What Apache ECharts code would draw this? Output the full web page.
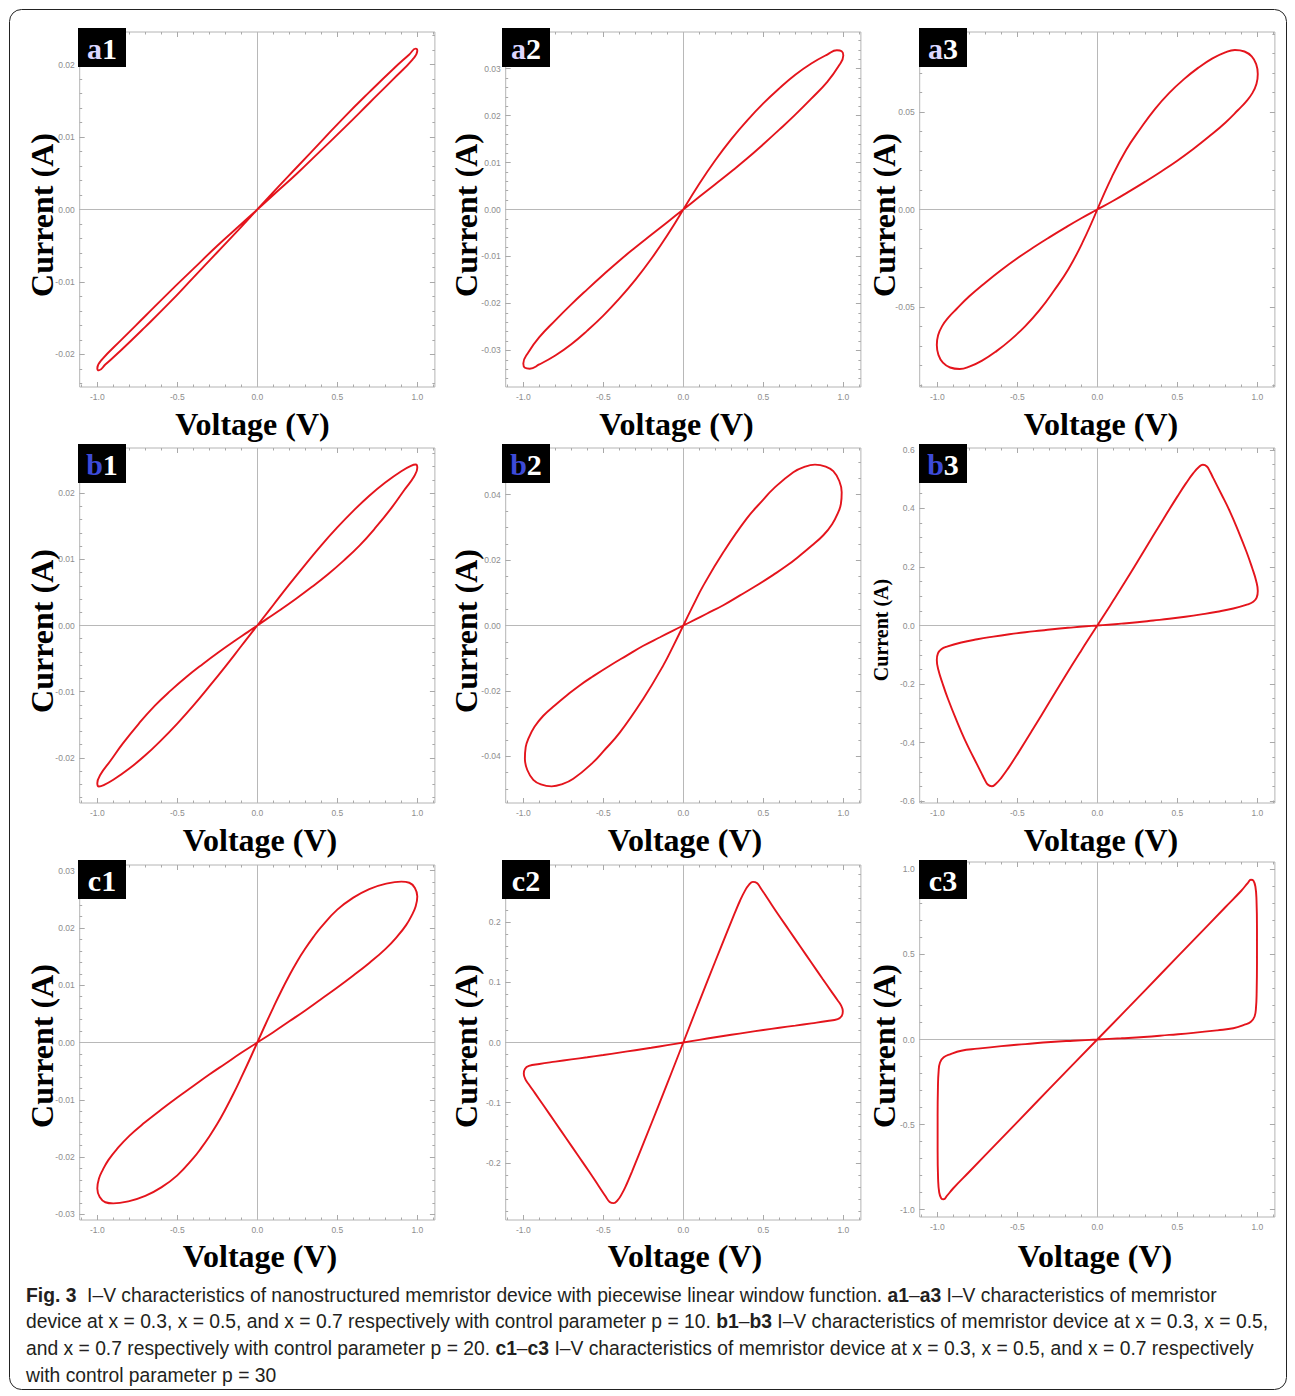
<!DOCTYPE html>
<html><head><meta charset="utf-8">
<script src="https://cdn.jsdelivr.net/npm/echarts@6.0.0/dist/echarts.min.js"></script>
<style>html,body{margin:0;padding:0;background:#fff}#c{width:1295px;height:1396px}</style>
</head><body><div id="c"></div>
<script>
// ---- data: loops as [voltage (V), current (A)] ----
const a1 = [[0,0],[0.1,0.0024],[0.25,0.0059],[0.4,0.0094],[0.55,0.0129],[0.7,0.0162],[0.85,0.0194],[0.95,0.0214],[0.99,0.0222],[1.0,0.0219],
[0.97,0.0207],[0.85,0.0180],[0.7,0.0147],[0.55,0.0114],[0.4,0.0082],[0.25,0.0050],[0.1,0.0020],[0,0],
[-0.1,-0.0020],[-0.25,-0.0050],[-0.4,-0.0082],[-0.55,-0.0114],[-0.7,-0.0147],[-0.85,-0.0180],[-0.97,-0.0207],[-1.0,-0.0219],
[-0.99,-0.0222],[-0.95,-0.0214],[-0.85,-0.0194],[-0.7,-0.0162],[-0.55,-0.0129],[-0.4,-0.0094],[-0.25,-0.0059],[-0.1,-0.0024],[0,0]];

const a2 = [[0,0],[0.1,0.0055],[0.2,0.0105],[0.3,0.0150],[0.4,0.0190],[0.5,0.0226],[0.6,0.0258],[0.7,0.0287],[0.8,0.0311],[0.9,0.0330],[0.96,0.0339],[0.99,0.0337],[1.0,0.0328],
[0.97,0.0305],[0.9,0.0272],[0.8,0.0236],[0.7,0.0202],[0.6,0.0170],[0.5,0.0139],[0.4,0.0109],[0.3,0.0081],[0.2,0.0054],[0.1,0.0027],[0,0],
[-0.1,-0.0027],[-0.2,-0.0054],[-0.3,-0.0081],[-0.4,-0.0109],[-0.5,-0.0139],[-0.6,-0.0170],[-0.7,-0.0202],[-0.8,-0.0236],[-0.9,-0.0272],[-0.97,-0.0305],
[-1.0,-0.0328],[-0.99,-0.0337],[-0.96,-0.0339],[-0.9,-0.0330],[-0.8,-0.0311],[-0.7,-0.0287],[-0.6,-0.0258],[-0.5,-0.0226],[-0.4,-0.0190],[-0.3,-0.0150],[-0.2,-0.0105],[-0.1,-0.0055],[0,0]];

const a3 = [[0,0],[0.09,0.0165],[0.18,0.0305],[0.27,0.0415],[0.36,0.0515],[0.45,0.0598],[0.54,0.0667],[0.63,0.0726],[0.72,0.0775],[0.80,0.0806],[0.86,0.0818],[0.92,0.0810],[0.965,0.0785],[0.993,0.0745],[1.003,0.0695],[0.995,0.0645],[0.97,0.0598],[0.93,0.0553],[0.88,0.0510],
[0.8,0.0445],[0.7,0.0375],[0.6,0.031],[0.5,0.025],[0.4,0.0195],[0.3,0.0143],[0.2,0.0093],[0.1,0.0045],[0,0],
[-0.1,-0.0045],[-0.2,-0.0093],[-0.3,-0.0143],[-0.4,-0.0195],[-0.5,-0.025],[-0.6,-0.031],[-0.7,-0.0375],[-0.8,-0.0445],
[-0.88,-0.0510],[-0.93,-0.0553],[-0.97,-0.0598],[-0.995,-0.0645],[-1.003,-0.0695],[-0.993,-0.0745],[-0.965,-0.0785],[-0.92,-0.0810],[-0.86,-0.0818],[-0.80,-0.0806],[-0.72,-0.0775],[-0.63,-0.0726],[-0.54,-0.0667],[-0.45,-0.0598],[-0.36,-0.0515],[-0.27,-0.0415],[-0.18,-0.0305],[-0.09,-0.0165],[0,0]];

const b1 = [[0,0],[0.1,0.0031],[0.2,0.0062],[0.3,0.0092],[0.4,0.0121],[0.5,0.0148],[0.6,0.0173],[0.7,0.0196],[0.8,0.0216],[0.9,0.0233],[0.96,0.0241],[0.99,0.0243],[1.0,0.0238],
[0.98,0.0225],[0.92,0.0205],[0.84,0.0178],[0.74,0.0148],[0.64,0.0121],[0.54,0.0098],[0.44,0.0077],[0.34,0.0058],[0.24,0.0040],[0.14,0.0023],[0.06,0.0010],[0,0],
[-0.06,-0.0010],[-0.14,-0.0023],[-0.24,-0.0040],[-0.34,-0.0058],[-0.44,-0.0077],[-0.54,-0.0098],[-0.64,-0.0121],[-0.74,-0.0148],[-0.84,-0.0178],[-0.92,-0.0205],[-0.98,-0.0225],
[-1.0,-0.0238],[-0.99,-0.0243],[-0.96,-0.0241],[-0.9,-0.0233],[-0.8,-0.0216],[-0.7,-0.0196],[-0.6,-0.0173],[-0.5,-0.0148],[-0.4,-0.0121],[-0.3,-0.0092],[-0.2,-0.0062],[-0.1,-0.0031],[0,0]];

const b2 = [[0,0],[0.06,0.006],[0.125,0.0122],[0.25,0.0224],[0.396,0.0327],[0.5,0.0385],[0.5625,0.0418],[0.6875,0.0469],[0.76,0.0486],[0.823,0.0492],[0.89,0.0486],[0.9375,0.0472],[0.975,0.0442],[0.99,0.0408],[0.985,0.0372],[0.969,0.0347],[0.93,0.0310],[0.875,0.0276],
[0.8,0.0243],[0.729,0.0214],[0.65,0.0184],[0.5625,0.0155],[0.45,0.0120],[0.354,0.0092],[0.25,0.0062],[0.146,0.0036],[0.07,0.0017],[0,0],
[-0.07,-0.0017],[-0.146,-0.0036],[-0.25,-0.0062],[-0.354,-0.0092],[-0.45,-0.0120],[-0.5625,-0.0155],[-0.65,-0.0184],[-0.729,-0.0214],[-0.8,-0.0243],
[-0.875,-0.0276],[-0.93,-0.0310],[-0.969,-0.0347],[-0.985,-0.0372],[-0.99,-0.0408],[-0.975,-0.0442],[-0.9375,-0.0472],[-0.89,-0.0486],[-0.823,-0.0492],[-0.76,-0.0486],[-0.6875,-0.0469],[-0.5625,-0.0418],[-0.5,-0.0385],[-0.396,-0.0327],[-0.25,-0.0224],[-0.125,-0.0122],[-0.06,-0.006],[0,0]];

const b3 = [[0,0],[0.1,0.085],[0.2,0.172],[0.3,0.262],[0.4,0.352],[0.5,0.44],[0.555,0.486],[0.6,0.52],[0.635,0.541],[0.66,0.549],[0.685,0.543],[0.705,0.525],[0.725,0.503],[0.775,0.449],[0.829,0.389],[0.88,0.324],[0.933,0.251],[0.967,0.198],[0.993,0.152],[1.003,0.118],[0.996,0.095],[0.975,0.081],[0.94,0.072],
[0.85,0.058],[0.75,0.047],[0.65,0.038],[0.55,0.030],[0.45,0.023],[0.35,0.017],[0.25,0.011],[0.15,0.0063],[0.07,0.0028],[0,0],
[-0.07,-0.0028],[-0.15,-0.0063],[-0.25,-0.011],[-0.35,-0.017],[-0.45,-0.023],[-0.55,-0.030],[-0.65,-0.038],[-0.75,-0.047],[-0.85,-0.058],
[-0.94,-0.072],[-0.975,-0.081],[-0.996,-0.095],[-1.003,-0.118],[-0.993,-0.152],[-0.967,-0.198],[-0.933,-0.251],[-0.88,-0.324],[-0.829,-0.389],[-0.775,-0.449],[-0.725,-0.503],[-0.705,-0.525],[-0.685,-0.543],[-0.66,-0.549],[-0.635,-0.541],[-0.6,-0.52],[-0.555,-0.486],[-0.5,-0.44],[-0.4,-0.352],[-0.3,-0.262],[-0.2,-0.172],[-0.1,-0.085],[0,0]];

const c1 = [[0,0],[0.05,0.0031],[0.1,0.0061],[0.15,0.0090],[0.2,0.0117],[0.25,0.0142],[0.3,0.0164],[0.35,0.0184],[0.4,0.0202],[0.5,0.0232],[0.6,0.0253],[0.7,0.0268],[0.8,0.0277],[0.9,0.0281],[0.95,0.0279],[0.985,0.0270],[1.0,0.0255],[0.99,0.0238],[0.965,0.0222],[0.93,0.0205],
[0.88,0.0187],[0.8,0.0163],[0.7,0.0139],[0.6,0.0117],[0.5,0.0096],[0.4,0.0076],[0.3,0.0056],[0.2,0.0037],[0.1,0.0018],[0,0],
[-0.1,-0.0018],[-0.2,-0.0037],[-0.3,-0.0056],[-0.4,-0.0076],[-0.5,-0.0096],[-0.6,-0.0117],[-0.7,-0.0139],[-0.8,-0.0163],[-0.88,-0.0187],
[-0.93,-0.0205],[-0.965,-0.0222],[-0.99,-0.0238],[-1.0,-0.0255],[-0.985,-0.0270],[-0.95,-0.0279],[-0.9,-0.0281],[-0.8,-0.0277],[-0.7,-0.0268],[-0.6,-0.0253],[-0.5,-0.0232],[-0.4,-0.0202],[-0.35,-0.0184],[-0.3,-0.0164],[-0.25,-0.0142],[-0.2,-0.0117],[-0.15,-0.0090],[-0.1,-0.0061],[-0.05,-0.0031],[0,0]];

const c2 = [[0,0],[0.1,0.068],[0.2,0.135],[0.28,0.188],[0.32,0.214],[0.355,0.236],[0.385,0.252],[0.41,0.262],[0.435,0.267],[0.46,0.265],[0.485,0.256],[0.53,0.238],[0.59,0.214],[0.66,0.187],[0.73,0.160],[0.80,0.133],[0.87,0.106],[0.925,0.085],[0.962,0.071],[0.985,0.062],[0.997,0.052],[0.99,0.044],[0.965,0.039],
[0.9,0.0357],[0.8,0.0318],[0.7,0.0281],[0.6,0.0245],[0.5,0.0208],[0.4,0.0168],[0.3,0.0128],[0.2,0.0087],[0.1,0.0044],[0,0],
[-0.1,-0.0044],[-0.2,-0.0087],[-0.3,-0.0128],[-0.4,-0.0168],[-0.5,-0.0208],[-0.6,-0.0245],[-0.7,-0.0281],[-0.8,-0.0318],[-0.9,-0.0357],
[-0.965,-0.039],[-0.99,-0.044],[-0.997,-0.052],[-0.985,-0.062],[-0.962,-0.071],[-0.925,-0.085],[-0.87,-0.106],[-0.80,-0.133],[-0.73,-0.160],[-0.66,-0.187],[-0.59,-0.214],[-0.53,-0.238],[-0.485,-0.256],[-0.46,-0.265],[-0.435,-0.267],[-0.41,-0.262],[-0.385,-0.252],[-0.355,-0.236],[-0.32,-0.214],[-0.28,-0.188],[-0.2,-0.135],[-0.1,-0.068],[0,0]];

const c3 = [[0,0],[0.2,0.193],[0.4,0.388],[0.6,0.583],[0.8,0.778],[0.9,0.875],[0.94,0.92],[0.96,0.94],[0.975,0.935],[0.988,0.9],[0.995,0.82],[0.998,0.65],[0.998,0.45],[0.996,0.28],[0.992,0.19],[0.983,0.135],[0.96,0.105],[0.92,0.087],
[0.85,0.066],[0.75,0.054],[0.6,0.039],[0.45,0.027],[0.29,0.0145],[0.15,0.007],[0,0],
[-0.15,-0.007],[-0.29,-0.0145],[-0.45,-0.027],[-0.6,-0.039],[-0.75,-0.054],[-0.85,-0.066],
[-0.92,-0.087],[-0.96,-0.105],[-0.983,-0.135],[-0.992,-0.19],[-0.996,-0.28],[-0.998,-0.45],[-0.998,-0.65],[-0.995,-0.82],[-0.988,-0.9],[-0.975,-0.935],[-0.96,-0.94],[-0.94,-0.92],[-0.9,-0.875],[-0.8,-0.778],[-0.6,-0.583],[-0.4,-0.388],[-0.2,-0.193],[0,0]];

// ---- tick labels ----
const xTickLabels = [-1, -0.5, 0, 0.5, 1];
const yTicksA1 = [-0.02, -0.01, 0, 0.01, 0.02];
const yTicksA2 = [-0.03, -0.02, -0.01, 0, 0.01, 0.02, 0.03];
const yTicksA3 = [-0.05, 0, 0.05];
const yTicksB1 = [-0.02, -0.01, 0, 0.01, 0.02];
const yTicksB2 = [-0.04, -0.02, 0, 0.02, 0.04];
const yTicksB3 = [-0.6, -0.4, -0.2, 0, 0.2, 0.4, 0.6];
const yTicksC1 = [-0.03, -0.02, -0.01, 0, 0.01, 0.02, 0.03];
const yTicksC2 = [-0.2, -0.1, 0, 0.1, 0.2];
const yTicksC3 = [-1, -0.5, 0, 0.5, 1];

const panelNames = ['a1','a2','a3','b1','b2','b3','c1','c2','c3'];
const xTitle = 'Voltage (V)';
const yTitle = 'Current (A)';
const captionLines = [
  '{b|Fig. 3}  I–V characteristics of nanostructured memristor device with piecewise linear window function. {b|a1}–{b|a3} I–V characteristics of memristor',
  'device at x = 0.3, x = 0.5, and x = 0.7 respectively with control parameter p = 10. {b|b1}–{b|b3} I–V characteristics of memristor device at x = 0.3, x = 0.5,',
  'and x = 0.7 respectively with control parameter p = 20. {b|c1}–{b|c3} I–V characteristics of memristor device at x = 0.3, x = 0.5, and x = 0.7 respectively',
  'with control parameter p = 30'
];

// ---- layout (positions / sizes / styles) ----
const loops = [a1, a2, a3, b1, b2, b3, c1, c2, c3];
const yTickSets = [yTicksA1, yTicksA2, yTicksA3, yTicksB1, yTicksB2, yTicksB3, yTicksC1, yTicksC2, yTicksC3];
const layout = [
  {left:79.7, top:32,  yMax:0.0245, yMinor:0.002, dec:2, box:[78,28],  vt:[252.5,424], ct:[42,215],  cs:32},
  {left:505.7,top:32,  yMax:0.0378, yMinor:0.002, dec:2, box:[502,28], vt:[676.5,424], ct:[466,215], cs:32},
  {left:919.7,top:32,  yMax:0.091,  yMinor:0.01,  dec:2, box:[919,28], vt:[1101,424],  ct:[884,215], cs:32},
  {left:79.7, top:448, yMax:0.0268, yMinor:0.002, dec:2, box:[78,444], vt:[260,840],   ct:[42,631],  cs:32},
  {left:505.7,top:448, yMax:0.0543, yMinor:0.005, dec:2, box:[502,444],vt:[685,840],   ct:[466,631], cs:32},
  {left:919.7,top:448, yMax:0.606,  yMinor:0.05,  dec:1, box:[919,444],vt:[1101,840],  ct:[881,630], cs:20},
  {left:79.7, top:865, yMax:0.031,  yMinor:0.002, dec:2, box:[78,860], vt:[260,1256],  ct:[42,1046], cs:32},
  {left:505.7,top:865, yMax:0.295,  yMinor:0.02,  dec:1, box:[502,860],vt:[685,1256],  ct:[466,1046],cs:32},
  {left:919.7,top:862, yMax:1.044,  yMinor:0.1,   dec:1, box:[919,860],vt:[1095,1256], ct:[884,1046],cs:32}
];
const W = 355.2, H = 355, XMIN = -1.11, XMAX = 1.11;
const SERIF = '"Liberation Serif", "Times New Roman", serif';
const SANS = '"Liberation Sans", Arial, sans-serif';
const frameColor = '#b4b4b4', tickColor = '#a9a9a9', labelColor = '#8d8d8d', curveColor = '#e4141c';

function r6(v){ return Math.round(v*1e6)/1e6; }
function stepValues(min, max, step){
  const out = []; const k0 = Math.ceil(min/step - 1e-9), k1 = Math.floor(max/step + 1e-9);
  for (let k = k0; k <= k1; k++) out.push(r6(k*step));
  return out;
}

const grids = [], xAxes = [], yAxes = [], series = [], graphics = [];

graphics.push({type:'rect', silent:true, z:-10, shape:{x:9.5, y:9.5, width:1277, height:1380, r:12},
  style:{fill:'none', stroke:'#222', lineWidth:1}});

layout.forEach((p, i) => {
  grids.push({left:p.left, top:p.top, width:W, height:H, show:true, borderColor:frameColor, borderWidth:1, backgroundColor:'transparent'});
  const yMin = -p.yMax, yMax = p.yMax;
  const xMinor = stepValues(XMIN, XMAX, 0.1);
  const yMinorV = stepValues(yMin, yMax, p.yMinor);
  const mk = (pos, min, max, ticks, len, labelVals, dec) => ({
    type:'value', gridIndex:i, position:pos, min, max,
    axisLine:{show:false, onZero:false}, splitLine:{show:false},
    axisTick:{show:true, inside:true, length:len, customValues:ticks, lineStyle:{color:tickColor, width:1}},
    axisLabel: labelVals ? {show:true, customValues:labelVals, formatter:(v)=>Number(v).toFixed(dec),
      fontSize:8.5, color:labelColor, fontFamily:SANS, margin:5} : {show:false}
  });
  xAxes.push(mk('bottom',XMIN,XMAX,xTickLabels,5,xTickLabels,1));
  xAxes.push(mk('bottom',XMIN,XMAX,xMinor,2.5,null));
  xAxes.push(mk('top',XMIN,XMAX,xTickLabels,5,null));
  xAxes.push(mk('top',XMIN,XMAX,xMinor,2.5,null));
  const yt = yTickSets[i];
  yAxes.push(mk('left',yMin,yMax,yt,5,yt,p.dec));
  yAxes.push(mk('left',yMin,yMax,yMinorV,2.5,null));
  yAxes.push(mk('right',yMin,yMax,yt,5,null));
  yAxes.push(mk('right',yMin,yMax,yMinorV,2.5,null));

  series.push({type:'line', xAxisIndex:4*i, yAxisIndex:4*i, data:[], silent:true,
    markLine:{silent:true, symbol:['none','none'], label:{show:false}, animation:false,
      lineStyle:{color:'#b8b8b8', width:1, type:'solid'}, data:[{xAxis:0},{yAxis:0}]}});
  series.push({type:'line', name:panelNames[i], xAxisIndex:4*i, yAxisIndex:4*i, data:loops[i],
    smooth:0.45, symbol:'none', showSymbol:false, silent:true,
    lineStyle:{color:curveColor, width:1.9}, z:5});

  // panel label box
  const letter = panelNames[i][0], digit = panelNames[i][1];
  const letterFill = letter === 'a' ? '#dcd6ff' : (letter === 'b' ? '#3d4bd8' : '#ffffff');
  graphics.push({type:'rect', silent:true, z:20, shape:{x:p.box[0], y:p.box[1], width:48, height:39}, style:{fill:'#000'}});
  graphics.push({type:'text', silent:true, z:21, x:p.box[0]+24, y:p.box[1]+20,
    style:{text:'{l|'+letter+'}{d|'+digit+'}', align:'center', verticalAlign:'middle',
      fontSize:30, fontFamily:SERIF, fontWeight:'bold', fill:'#fff',
      rich:{l:{fontSize:30, fontFamily:SERIF, fontWeight:'bold', fill:letterFill},
            d:{fontSize:30, fontFamily:SERIF, fontWeight:'bold', fill:'#fff'}}}});
  // axis titles
  graphics.push({type:'text', silent:true, z:15, x:p.vt[0], y:p.vt[1],
    style:{text:xTitle, align:'center', verticalAlign:'middle', fontSize:32, fontFamily:SERIF, fontWeight:'bold', fill:'#000'}});
  graphics.push({type:'text', silent:true, z:15, x:p.ct[0], y:p.ct[1], rotation:Math.PI/2,
    style:{text:yTitle, align:'center', verticalAlign:'middle', fontSize:p.cs, fontFamily:SERIF, fontWeight:'bold', fill:'#000'}});
});

const capY = [1295, 1321.5, 1348, 1375];
captionLines.forEach((t, k) => {
  graphics.push({type:'text', silent:true, z:15, x:26, y:capY[k],
    style:{text:t, align:'left', verticalAlign:'middle', fontSize:19.3, fontFamily:SANS, fill:'#231f20',
      rich:{b:{fontSize:19.3, fontFamily:SANS, fontWeight:'bold', fill:'#231f20'}}}});
});

const chart = echarts.init(document.getElementById('c'), null, {renderer:'svg'});
chart.setOption({
  animation:false,
  backgroundColor:'#ffffff',
  grid:grids, xAxis:xAxes, yAxis:yAxes, series:series,
  graphic:{elements:graphics}
});
</script>
</body></html>
